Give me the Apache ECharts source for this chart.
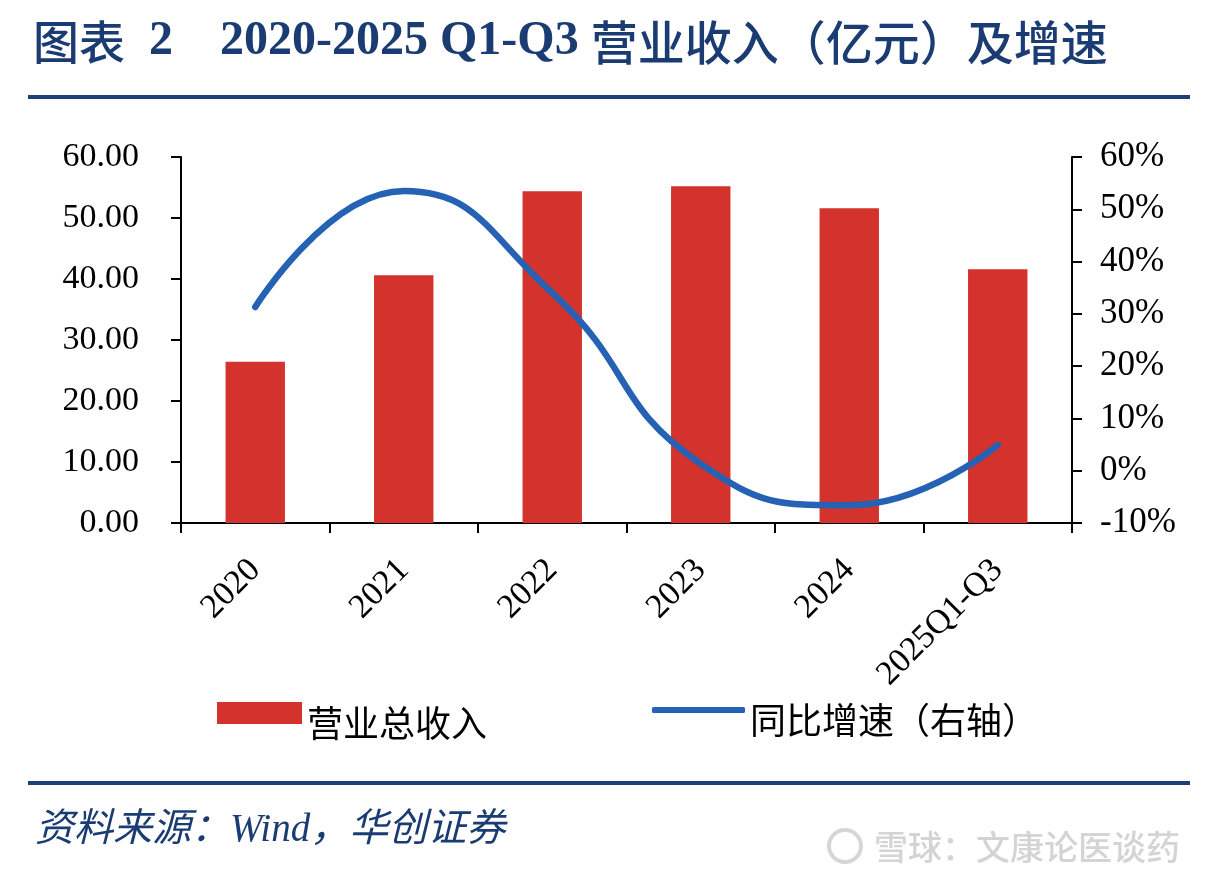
<!DOCTYPE html>
<html>
<head>
<meta charset="utf-8">
<script src="https://cdn.jsdelivr.net/npm/echarts@6/dist/echarts.min.js"></script>
<style>
html,body{margin:0;padding:0;background:#fff;}
#chart{width:1220px;height:880px;}
</style>
</head>
<body>
<div id="chart"></div>
<script>
var categories = ['2020', '2021', '2022', '2023', '2024', '2025Q1-Q3'];
var revenue = [26.45, 40.6, 54.4, 55.2, 51.6, 41.6];
var growth = [31.3, 53.5, 34.0, 1.3, -6.6, 4.9];
var leftTicks = { min: 0, max: 60, interval: 10 };
var rightTicks = { min: -10, max: 60, interval: 10 };

var navy = '#1B3C73';
var serif = '"Liberation Serif", "Times New Roman", serif';
var cjk = '"Noto Sans CJK SC", sans-serif';

var legendText = {
  fontFamily: cjk, fontSize: 36, color: '#000',
  rich: { t: { fontFamily: cjk, fontSize: 36, color: '#000', padding: [20, 0, 0, 0] } }
};

var chart = echarts.init(document.getElementById('chart'));
chart.setOption({
  animation: false,
  backgroundColor: '#fff',
  grid: { left: 181, right: 148, top: 157, bottom: 357, containLabel: false },
  xAxis: {
    type: 'category',
    data: categories,
    boundaryGap: true,
    axisLine: { show: true, lineStyle: { color: '#000', width: 2 } },
    axisTick: { show: true, inside: false, length: 10, alignWithLabel: false, lineStyle: { color: '#000', width: 2 } },
    axisLabel: { rotate: 45, margin: 42, color: '#000', fontFamily: serif, fontSize: 34, interval: 0 }
  },
  yAxis: [
    {
      type: 'value', position: 'left',
      min: leftTicks.min, max: leftTicks.max, interval: leftTicks.interval,
      splitLine: { show: false },
      axisLine: { show: true, lineStyle: { color: '#000', width: 2 } },
      axisTick: { show: true, inside: false, length: 10, lineStyle: { color: '#000', width: 2 } },
      axisLabel: { margin: 42, color: '#000', fontFamily: serif, fontSize: 34, formatter: function (v) { return v.toFixed(2); } }
    },
    {
      type: 'value', position: 'right',
      min: rightTicks.min, max: rightTicks.max, interval: rightTicks.interval,
      splitLine: { show: false },
      axisLine: { show: true, lineStyle: { color: '#000', width: 2 } },
      axisTick: { show: true, inside: false, length: 10, lineStyle: { color: '#000', width: 2 } },
      axisLabel: { margin: 28, color: '#000', fontFamily: serif, fontSize: 35, formatter: '{value}%' }
    }
  ],
  legend: [
    {
      data: [{ name: '营业总收入', icon: 'rect' }],
      left: 217, top: 702, padding: 0, itemWidth: 85, itemHeight: 22, itemGap: 10,
      formatter: '{t|{name}}',
      textStyle: legendText
    },
    {
      data: [{ name: '同比增速（右轴）', icon: 'roundRect' }],
      left: 652, top: 702, padding: 0, itemWidth: 93, itemHeight: 6, itemGap: 7,
      itemStyle: { color: '#2662B4', borderWidth: 0 },
      lineStyle: { width: 0 },
      formatter: '{t|{name}}',
      textStyle: legendText
    }
  ],
  series: [
    {
      name: '营业总收入',
      type: 'bar',
      yAxisIndex: 0,
      data: revenue,
      barWidth: '40%',
      itemStyle: { color: '#D4322C' }
    },
    {
      name: '同比增速（右轴）',
      type: 'line',
      yAxisIndex: 1,
      data: growth,
      smooth: 0.5,
      symbol: 'none',
      lineStyle: { color: '#2662B4', width: 6.5, cap: 'round' },
      itemStyle: { color: '#2662B4' }
    }
  ],
  graphic: [
    {
      type: 'text', x: 33, y: 42,
      style: {
        text: '{c|图表}{d|  2}',
        verticalAlign: 'middle',
        rich: {
          c: { font: '500 46px ' + cjk, fill: navy, verticalAlign: 'middle' },
          d: { font: 'bold 48px ' + serif, fill: navy, verticalAlign: 'middle' }
        }
      }
    },
    {
      type: 'text', x: 220, y: 42,
      style: {
        text: '{a|2020-2025 Q1-Q3 }{b|营业收入（亿元）及增速}',
        verticalAlign: 'middle',
        rich: {
          a: { font: 'bold 48px ' + serif, fill: navy, verticalAlign: 'middle' },
          b: { font: '500 47px ' + cjk, fill: navy, verticalAlign: 'middle' }
        }
      }
    },
    { type: 'rect', shape: { x: 28, y: 95, width: 1162, height: 4 }, style: { fill: '#1F3F78' } },
    { type: 'rect', shape: { x: 28, y: 781, width: 1162, height: 4 }, style: { fill: '#1F3F78' } },
    {
      type: 'text', x: 35, y: 831,
      style: { text: '资料来源：Wind，华创证券', font: 'italic 39px ' + serif + ', ' + cjk, fill: navy, verticalAlign: 'middle' }
    },
    { type: 'circle', shape: { cx: 845, cy: 846, r: 16 }, style: { fill: 'none', stroke: '#d6d6d6', lineWidth: 4 } },
    {
      type: 'text', x: 874, y: 847,
      style: { text: '雪球：文康论医谈药', font: '500 34px ' + cjk, fill: '#d4d4d4', verticalAlign: 'middle' }
    }
  ]
});
</script>
</body>
</html>
